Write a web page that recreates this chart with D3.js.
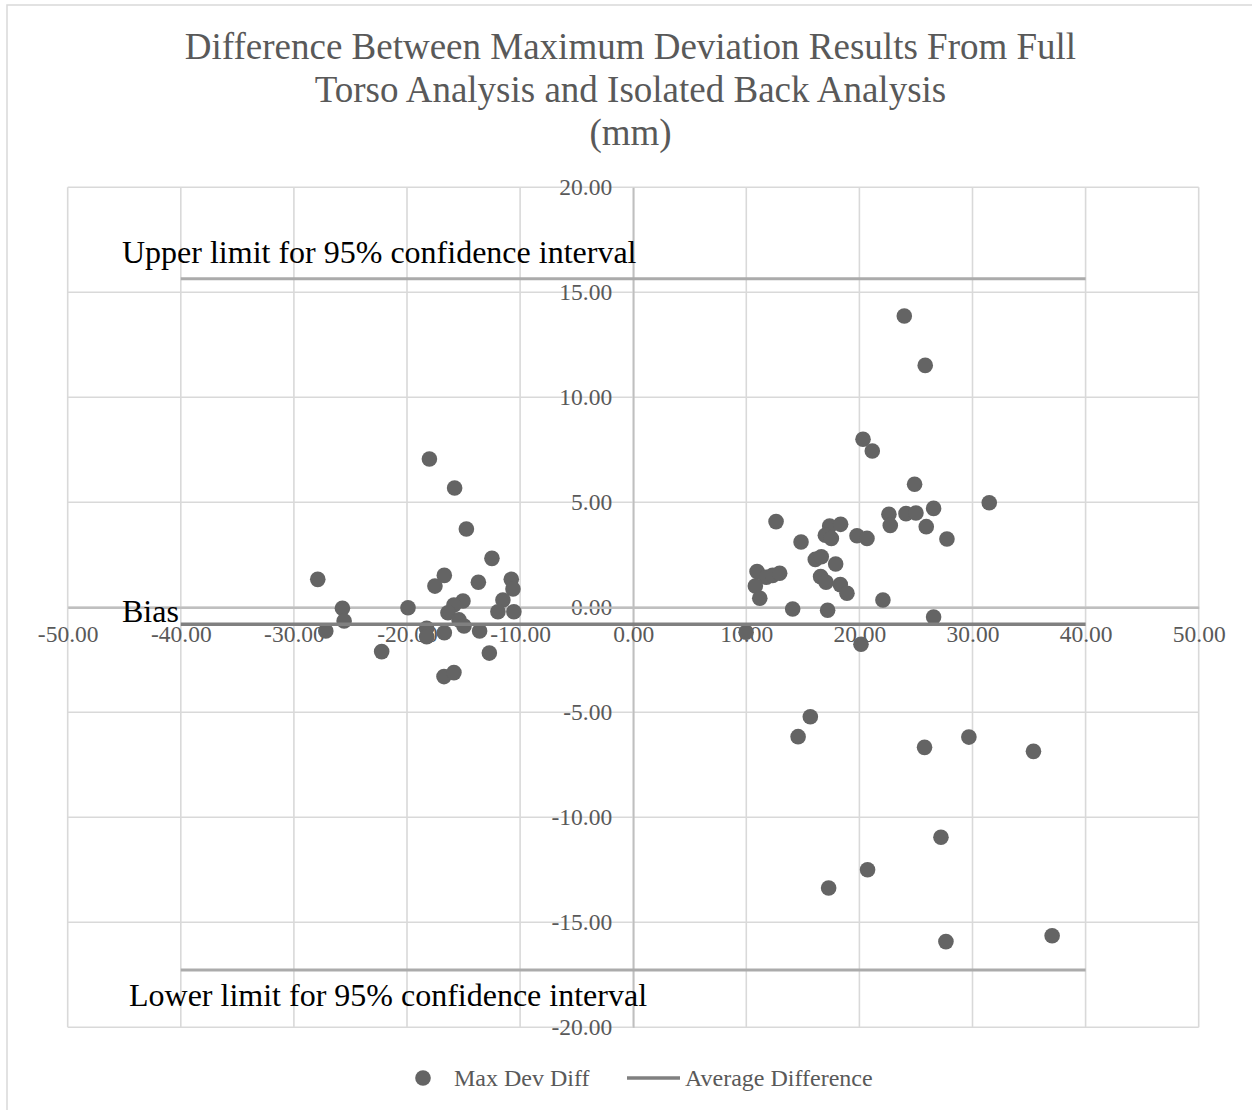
<!DOCTYPE html>
<html>
<head>
<meta charset="utf-8">
<script src="https://cdn.jsdelivr.net/npm/d3@7"></script>
<style>
  html, body { margin: 0; padding: 0; background: #fff; }
  svg { display: block; }
  text { font-family: "Liberation Serif", "Times New Roman", serif; }
</style>
</head>
<body>
<svg id="chart" width="1252" height="1110"></svg>
<script>
// Average of the two maximum-deviation measurements (mm)
const meanValues = [
  -18.02, -15.79, -14.75, -12.49, -27.89, -16.70, -17.53, -13.69, -10.78, -10.63,
  -11.52, -11.96, -10.55, -25.71, -25.56, -19.91, -27.18, -15.05, -15.85, -16.38,
  -15.40, -14.96, -18.26, -18.26, -16.70, -13.58, -12.72, -22.24, -16.73, -15.85,
  23.97, 25.82, 20.32, 21.14, 24.88, 31.48, 12.63, 22.61, 22.73, 24.12,
  25.00, 26.56, 25.91, 27.74, 17.37, 18.34, 16.99, 17.52, 19.79, 20.67,
  14.84, 16.10, 16.63, 17.90, 10.95, 11.78, 12.33, 12.95, 10.80, 11.19,
  16.57, 17.05, 18.31, 18.90, 22.08, 14.10, 17.19, 26.56, 9.98, 20.14,
  15.66, 14.58, 25.76, 29.68, 35.39, 27.21, 20.72, 17.28, 27.65, 37.04
];
// Difference between full torso and isolated back results (mm)
const diffValues = [
  7.06, 5.68, 3.73, 2.33, 1.33, 1.52, 1.01, 1.19, 1.33, 0.87,
  0.35, -0.21, -0.21, -0.05, -0.65, -0.02, -1.13, 0.30, 0.11, -0.26,
  -0.60, -0.89, -1.00, -1.40, -1.21, -1.13, -2.18, -2.11, -3.30, -3.11,
  13.87, 11.52, 8.00, 7.44, 5.86, 4.98, 4.08, 4.43, 3.90, 4.46,
  4.49, 4.71, 3.84, 3.25, 3.87, 3.95, 3.43, 3.28, 3.41, 3.28,
  3.11, 2.28, 2.41, 2.06, 1.70, 1.43, 1.52, 1.62, 1.01, 0.43,
  1.46, 1.19, 1.08, 0.67, 0.35, -0.08, -0.14, -0.46, -1.19, -1.76,
  -5.21, -6.16, -6.67, -6.18, -6.86, -10.95, -12.50, -13.37, -15.92, -15.64
];

// Bias and 95% limits of agreement (mm)
const biasValue = -0.81;
const upperLimit = 15.65;
const lowerLimit = -17.27;
const limitSpan = [-40, 40];

const xTicks = [-50, -40, -30, -20, -10, 0, 10, 20, 30, 40, 50];
const yTicks = [-20, -15, -10, -5, 0, 5, 10, 15, 20];

const titleLines = [
  "Difference Between Maximum Deviation Results From Full",
  "Torso Analysis and Isolated Back Analysis",
  "(mm)"
];
const legendLabels = ["Max Dev Diff", "Average Difference"];

const svg = d3.select("#chart");

const x = d3.scaleLinear().domain([-50, 50]).range([67.7, 1198.7]);
const y = d3.scaleLinear().domain([-20, 20]).range([1027.3, 187.3]);

// outer chart frame
svg.append("rect")
  .attr("x", 7).attr("y", 5).attr("width", 1300).attr("height", 1200)
  .attr("fill", "none").attr("stroke", "#d9d9d9").attr("stroke-width", 1.5);

// title
svg.append("text")
  .attr("text-anchor", "middle")
  .attr("fill", "#595959")
  .attr("font-size", 37)
  .selectAll("tspan")
  .data(titleLines)
  .join("tspan")
  .attr("x", 630.5)
  .attr("y", (d, i) => 59 + i * 43)
  .text(d => d);

// gridlines
const grid = svg.append("g").attr("stroke", "#d9d9d9").attr("stroke-width", 1.6);
grid.selectAll("line.v").data(xTicks).join("line")
  .attr("class", "v")
  .attr("x1", d => x(d)).attr("x2", d => x(d))
  .attr("y1", y(20)).attr("y2", y(-20));
grid.selectAll("line.h").data(yTicks).join("line")
  .attr("class", "h")
  .attr("x1", x(-50)).attr("x2", x(50))
  .attr("y1", d => y(d)).attr("y2", d => y(d));

// axes crossing at the origin; labels use a plain hyphen for negatives
const fmt2 = d3.format(".2f");
const fmt = d => fmt2(d).replace("\u2212", "-");
const tickFont = "'Liberation Serif', 'Times New Roman', serif";

const yAxis = svg.append("g")
  .attr("transform", `translate(${x(0)},0)`)
  .call(d3.axisLeft(y).tickValues(yTicks).tickFormat(fmt).tickSize(0).tickPadding(21));
yAxis.select(".domain").attr("stroke", "#bfbfbf").attr("stroke-width", 1.8);
yAxis.selectAll("text")
  .attr("fill", "#595959")
  .attr("font-size", 23.5)
  .style("font-family", tickFont);

const xAxis = svg.append("g")
  .attr("transform", `translate(0,${y(0)})`)
  .call(d3.axisBottom(x).tickValues(xTicks).tickFormat(fmt).tickSize(0));
xAxis.select(".domain").attr("stroke", "#bfbfbf").attr("stroke-width", 2.5);
xAxis.selectAll("text")
  .attr("y", 35).attr("dy", 0)
  .attr("fill", "#595959")
  .attr("font-size", 23.5)
  .style("font-family", tickFont);

// data points
const points = meanValues.map((m, i) => ({ m, d: diffValues[i] }));
svg.append("g")
  .selectAll("circle")
  .data(points)
  .join("circle")
  .attr("cx", p => x(p.m))
  .attr("cy", p => y(p.d))
  .attr("r", 7.8)
  .attr("fill", "#646464");

// limits of agreement
const lineGen = d3.line().x(d => x(d[0])).y(d => y(d[1]));
[upperLimit, lowerLimit].forEach(v => {
  svg.append("path")
    .attr("d", lineGen(limitSpan.map(t => [t, v])))
    .attr("fill", "none")
    .attr("stroke", "#ababab")
    .attr("stroke-width", 3);
});
// average difference
svg.append("path")
  .attr("d", lineGen(limitSpan.map(t => [t, biasValue])))
  .attr("fill", "none")
  .attr("stroke", "#808080")
  .attr("stroke-width", 3.5);

// annotations
const notes = [
  { text: "Upper limit for 95% confidence interval", x: 122, y: 263 },
  { text: "Bias", x: 122, y: 622 },
  { text: "Lower limit for 95% confidence interval", x: 129, y: 1006 }
];
svg.append("g")
  .selectAll("text")
  .data(notes)
  .join("text")
  .attr("x", d => d.x)
  .attr("y", d => d.y)
  .attr("fill", "#000")
  .attr("font-size", 32)
  .text(d => d.text);

// legend
const legend = svg.append("g").attr("fill", "#595959").attr("font-size", 24);
legend.append("circle").attr("cx", 423).attr("cy", 1078).attr("r", 7.8).attr("fill", "#646464");
legend.append("text").attr("x", 454).attr("y", 1086).text(legendLabels[0]);
legend.append("line")
  .attr("x1", 627).attr("x2", 680).attr("y1", 1078).attr("y2", 1078)
  .attr("stroke", "#808080").attr("stroke-width", 3.5);
legend.append("text").attr("x", 685).attr("y", 1086).text(legendLabels[1]);
</script>
</body>
</html>
